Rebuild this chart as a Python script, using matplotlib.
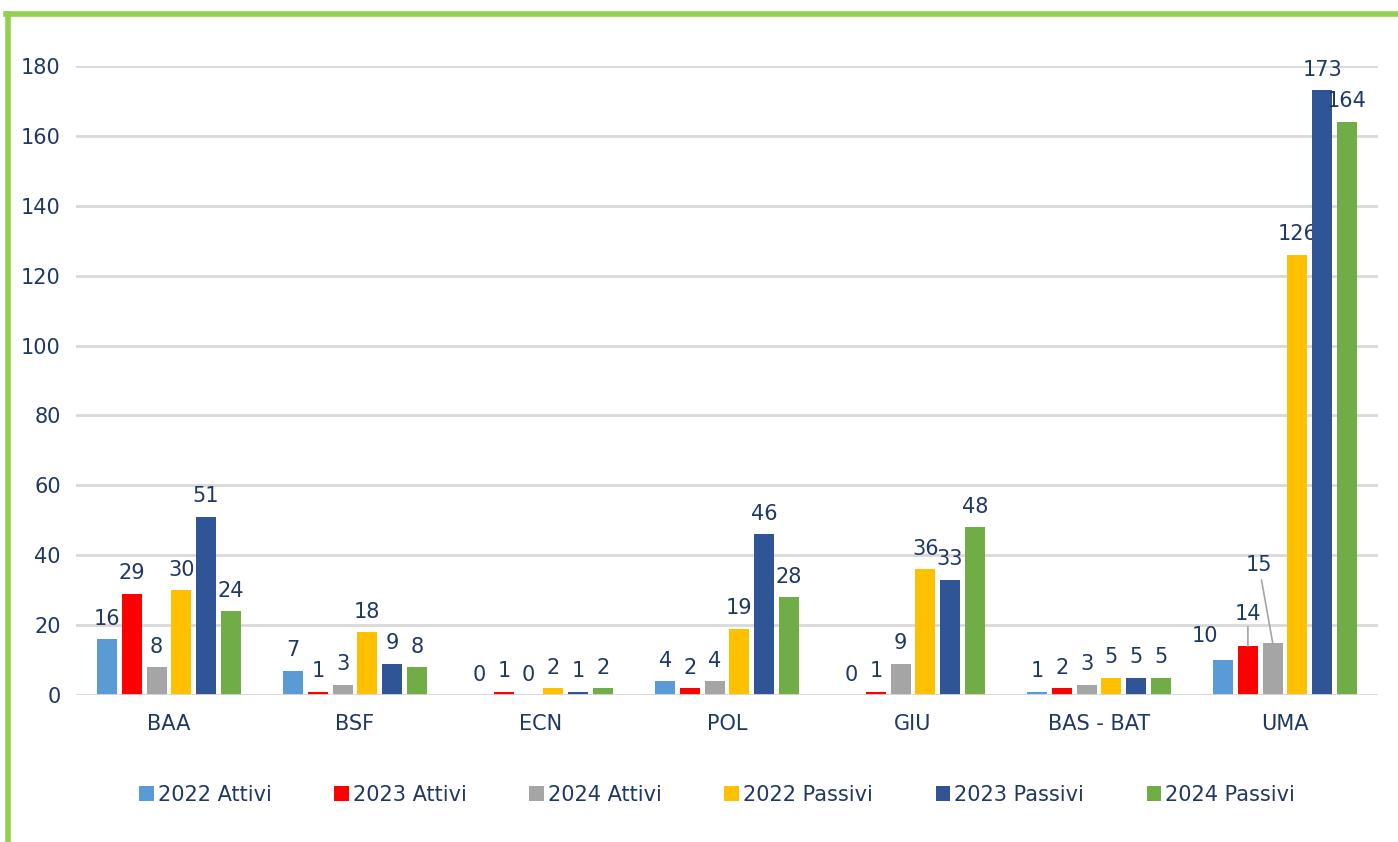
import numpy as np
import matplotlib.pyplot as plt

categories = ["BAA", "BSF", "ECN", "POL", "GIU", "BAS - BAT", "UMA"]
series_names = ["2022 Attivi", "2023 Attivi", "2024 Attivi",
                "2022 Passivi", "2023 Passivi", "2024 Passivi"]
attivi_2022 = [16, 7, 0, 4, 0, 1, 10]
attivi_2023 = [29, 1, 1, 2, 1, 2, 14]
attivi_2024 = [8, 3, 0, 4, 9, 3, 15]
passivi_2022 = [30, 18, 2, 19, 36, 5, 126]
passivi_2023 = [51, 9, 1, 46, 33, 5, 173]
passivi_2024 = [24, 8, 2, 28, 48, 5, 164]

colors = ["#5B9BD5", "#FF0000", "#A5A5A5", "#FFC000", "#2F5597", "#70AD47"]
text_col = "#1F3864"
fs = 15

plt.rcParams['font.family'] = ['DejaVu Sans']

fig = plt.figure(figsize=(13.98, 8.42), dpi=100)
ax = fig.add_axes([76/1398, 1 - 695/842, 1302/1398, 629/842])

data = [attivi_2022, attivi_2023, attivi_2024, passivi_2022, passivi_2023, passivi_2024]
x = np.arange(len(categories))
pitch = 0.133
width = 0.107

for i, (vals, name, c) in enumerate(zip(data, series_names, colors)):
    pos = x + (i - 2.5) * pitch
    bars = ax.bar(pos, vals, width, color=c, label=name, zorder=3)
    for j, (b, v) in enumerate(zip(bars, vals)):
        cx = b.get_x() + b.get_width() / 2
        if categories[j] == "UMA" and i == 0:
            # label shifted left
            ax.annotate(str(v), (cx, v), xytext=(-13, 10), textcoords="offset points",
                        ha="center", va="bottom", fontsize=fs, color=text_col)
        elif categories[j] == "UMA" and i == 1:
            ax.annotate(str(v), (cx, v), xytext=(0, 16), textcoords="offset points",
                        ha="center", va="bottom", fontsize=fs, color=text_col,
                        arrowprops=dict(arrowstyle="-", color="#A5A5A5", lw=1.2,
                                        shrinkA=0, shrinkB=0))
        elif categories[j] == "UMA" and i == 2:
            ax.annotate(str(v), (cx, v), xytext=(-10, 49), textcoords="offset points",
                        ha="center", va="bottom", fontsize=fs, color=text_col,
                        arrowprops=dict(arrowstyle="-", color="#A5A5A5", lw=1.2,
                                        shrinkA=2, shrinkB=0))
        else:
            ax.annotate(str(v), (cx, v), xytext=(0, 7.5), textcoords="offset points",
                        ha="center", va="bottom", fontsize=fs, color=text_col)

ax.set_xlim(-0.5, len(categories) - 0.5)
ax.set_ylim(0, 180)
ax.set_yticks(range(0, 181, 20))
ax.set_xticks(x)
ax.set_xticklabels(categories)
ax.tick_params(axis="both", length=0, labelsize=fs, colors=text_col)
ax.tick_params(axis="y", pad=11)
ax.tick_params(axis="x", pad=14)
ax.grid(axis="y", color="#D9D9D9", lw=2, zorder=0)
for s in ax.spines.values():
    s.set_visible(False)
ax.axhline(0, color="#D9D9D9", lw=2, zorder=4)

fig.legend(loc="center", bbox_to_anchor=(0.513, 1 - 795/842), ncol=6, frameon=False,
           fontsize=fs, handlelength=0.7, handleheight=0.7, handletextpad=0.2,
           columnspacing=3.0, labelcolor=text_col)

# green frame on left and top
fig.add_artist(plt.Line2D([8/1398, 8/1398], [0, 1 - 14/842], color="#92D050", lw=4))
fig.add_artist(plt.Line2D([6/1398, 1], [1 - 14/842, 1 - 14/842], color="#92D050", lw=4))

fig.savefig("out.png", dpi=100)
